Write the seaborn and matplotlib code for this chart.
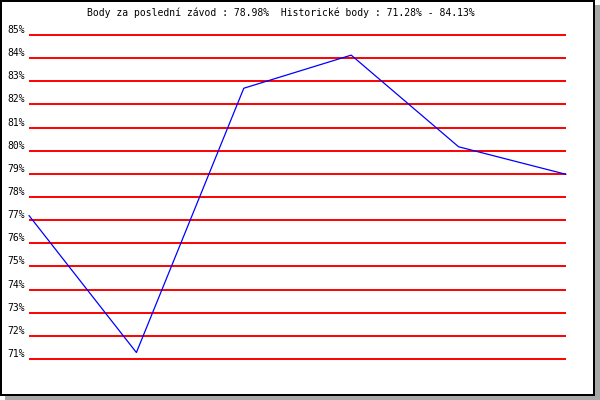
import matplotlib
matplotlib.use("Agg")
import matplotlib.pyplot as plt
from matplotlib.patches import Rectangle
from matplotlib.transforms import ScaledTranslation
import seaborn as sns
import pandas as pd

# Data
races = [1, 2, 3, 4, 5, 6]
scores = [77.2, 71.28, 82.7, 84.13, 80.17, 78.98]
y_ticks = list(range(71, 86))
y_tick_labels = [f"{v}%" for v in y_ticks]
title_text = "Body za poslední závod : 78.98%  Historické body : 71.28% - 84.13%"

sns.set_theme(style="white")
plt.rcParams["font.family"] = ["DejaVu Sans Mono", "DejaVu Sans"]

W, H = 600, 400
fig = plt.figure(figsize=(6, 4), dpi=100)
fig.patch.set_facecolor("white")

# shadow + frame (pixel coords converted to figure fraction)
def px_rect(x0, y0, x1, y1, **kw):
    # y measured from top
    return Rectangle((x0 / W, 1 - y1 / H), (x1 - x0) / W, (y1 - y0) / H,
                     transform=fig.transFigure, figure=fig, **kw)

fig.patches.append(px_rect(5, 5, 600, 400, facecolor="#a8a8a8", edgecolor="none", zorder=0))
fig.patches.append(px_rect(1, 1, 594, 395, facecolor="white", edgecolor="black",
                           linewidth=2 * 72 / 100, zorder=1))

px_per_unit = (359 - 35) / 14.0
ylo, yhi = 70.5, 85.5
top_px = 35 - (yhi - 85) * px_per_unit
bot_px = 359 + (71 - ylo) * px_per_unit
ax = fig.add_axes([29 / W, 1 - bot_px / H, (566 - 29) / W, (bot_px - top_px) / H])
ax.set_facecolor("none")
ax.set_zorder(2)

df = pd.DataFrame({"race": races, "score": scores})
sns.lineplot(data=df, x="race", y="score", ax=ax, color="#0000ff", linewidth=0.9,
             clip_on=False, zorder=3)

ax.set_xlim(races[0], races[-1])
ax.set_ylim(ylo, yhi)
ax.set_yticks(y_ticks)
ax.set_yticklabels(y_tick_labels, fontsize=7, color="black")
ax.set_xticks([])
ax.set_xlabel("")
ax.set_ylabel("")
ax.tick_params(axis="y", length=0, pad=3)
for lbl in ax.get_yticklabels():
    lbl.set_transform(lbl.get_transform() + ScaledTranslation(0, 6 / 100, fig.dpi_scale_trans))
ax.grid(axis="y", color="#ff0000", linewidth=1.4)
ax.grid(axis="x", visible=False)
for s in ax.spines.values():
    s.set_visible(False)

fig.text(281 / W, 1 - 13 / H, title_text, ha="center", va="center", fontsize=7,
         color="black", zorder=5)

fig.savefig("out.png", dpi=100)
